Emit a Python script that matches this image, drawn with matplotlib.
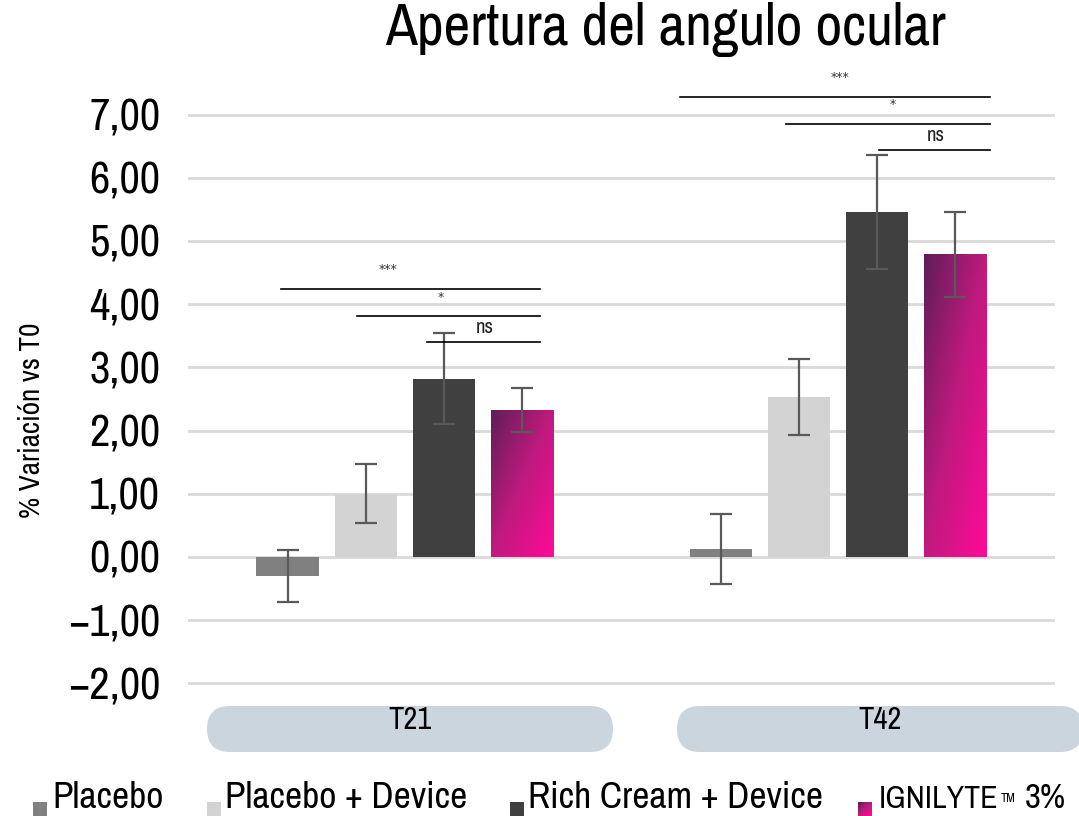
import numpy as np
import matplotlib
matplotlib.use("Agg")
import matplotlib.pyplot as plt
from matplotlib.patches import Rectangle, FancyBboxPatch
from matplotlib.colors import LinearSegmentedColormap
from matplotlib.ticker import FuncFormatter
from matplotlib.transforms import offset_copy

# ---- data ----
timepoints = ["T21", "T42"]
series = ["Placebo", "Placebo + Device", "Rich Cream + Device", "IGNILYTE"]
placebo = [-0.30, 0.13]
placebo_device = [1.00, 2.53]
rich_cream = [2.82, 5.46]
ignilyte = [2.33, 4.79]
err_placebo = [0.41, 0.55]
err_placebo_device = [0.47, 0.60]
err_rich_cream = [0.72, 0.90]
err_ignilyte = [0.35, 0.67]
# significance brackets (x in category units, groups centred at 0.5 and 1.5)
br_start = [0.215, 0.391, 0.551, 1.134, 1.380, 1.595]
br_end = [0.8125, 0.8125, 0.8125, 1.850, 1.850, 1.850]
br_y = [4.24, 3.81, 3.40, 7.28, 6.85, 6.44]
br_label = ["***", "*", "ns", "***", "*", "ns"]
br_label_x = [0.461, 0.583, 0.685, 1.505, 1.625, 1.725]

values = [placebo, placebo_device, rich_cream, ignilyte]
errors = [err_placebo, err_placebo_device, err_rich_cream, err_ignilyte]
colors = ["#808080", "#d3d3d3", "#404040", None]
grad = LinearSegmentedColormap.from_list("ign", ["#5e1e58", "#c01a7e", "#ff0a99"])

FONT = ["Archivo Narrow", "Liberation Sans", "DejaVu Sans"]
plt.rcParams["font.family"] = FONT

W, H = 1079, 816
fig = plt.figure(figsize=(W / 100, H / 100), dpi=100)
ax = fig.add_axes([188 / W, 1 - 689.7 / H, (1055 - 188) / W, (689.7 - 64) / H])

step = 0.18
width = 0.144
centers = np.arange(len(timepoints)) + 0.5
offsets = (np.arange(len(series)) - 1.5) * step

for i, (vals, errs, col) in enumerate(zip(values, errors, colors)):
    xs = centers + offsets[i]
    if col is None:
        bars = ax.bar(xs, vals, width, color="none", zorder=2)
        gimg = np.add.outer(np.linspace(0, 1, 100), np.linspace(0, 1, 100)) / 2
        for b in bars:
            x0, y0 = b.get_x(), b.get_y()
            im = ax.imshow(gimg, cmap=grad, origin="upper", aspect="auto",
                           extent=[x0, x0 + b.get_width(), y0, y0 + b.get_height()],
                           zorder=2)
            im.set_clip_path(b)
    else:
        ax.bar(xs, vals, width, color=col, zorder=2)
    ax.errorbar(xs, vals, yerr=errs, fmt="none", ecolor="#595959",
                elinewidth=1.6, capsize=8, capthick=1.6, zorder=3)

ax.set_xlim(0, 2)
ax.set_ylim(-2.1, 7.8)

# significance brackets
for x0, x1, y, lab, lx in zip(br_start, br_end, br_y, br_label, br_label_x):
    ax.plot([x0, x1], [y, y], color="black", lw=1.2, zorder=4)
    if lab == "ns":
        ax.text(lx, y + 0.08, lab, ha="center", va="bottom", fontsize=15, color="#222222")
    else:
        ax.text(lx, y + 0.2, lab, ha="center", va="bottom", fontsize=9,
                color="#333333", family=["DejaVu Sans"])

ax.set_yticks(np.arange(-2, 8, 1))
ax.yaxis.set_major_formatter(FuncFormatter(lambda v, p: f"{v:.2f}".replace(".", ",").replace("-", "\u2212")))
ax.tick_params(axis="y", length=0, pad=20, labelsize=32)
ax.tick_params(axis="x", length=0, labelbottom=False)
ax.grid(axis="y", color="#d9d9d9", lw=2, zorder=0)
ax.set_axisbelow(True)
for s in ax.spines.values():
    s.set_visible(False)

ax.set_ylabel("% Variación vs T0", fontsize=21)
ax.yaxis.set_label_coords(-143 / (1055 - 188), 0.43)

fig.text(665 / W, 1 - 45 / H, "Apertura del angulo ocular", ha="center", va="baseline",
         fontsize=42)

# category pills under the axis
pill_left = [207, 677]
pill_w, pill_top, pill_bot = 406, 706, 752
for name, left in zip(timepoints, pill_left):
    p = FancyBboxPatch((left / 100, (H - pill_bot) / 100), pill_w / 100, (pill_bot - pill_top) / 100,
                       boxstyle="round,pad=0,rounding_size=0.23",
                       transform=fig.dpi_scale_trans, facecolor="#cbd5de", edgecolor="none")
    fig.add_artist(p)
    fig.text((left + pill_w / 2) / W, 1 - 720 / H, name, ha="center", va="center", fontsize=22)

# legend along the bottom
sq_x = [33, 207, 510, 858]
txt_x = [52, 225, 528, 879]
renderer = fig.canvas.get_renderer()
for i, name in enumerate(series):
    rect = Rectangle((sq_x[i] / W, 0), 14 / W, 14 / H, transform=fig.transFigure)
    if colors[i] is None:
        rect.set_facecolor("none")
        fig.add_artist(rect)
        fig.figimage(np.add.outer(np.linspace(0, 1, 14), np.linspace(0, 1, 14)) / 2,
                     xo=sq_x[i], yo=0, cmap=grad, origin="upper")
        # narrower brand name, small trademark sign, then the concentration
        t = fig.text(txt_x[i] / W, 1 - 808 / H, name, ha="left", va="baseline", fontsize=23)
        wpx = t.get_window_extent(renderer).width
        tr = offset_copy(fig.transFigure, fig=fig, x=(wpx + 2) * 72 / fig.dpi, y=4, units="points")
        tm = fig.text(txt_x[i] / W, 1 - 808 / H, "TM", transform=tr, ha="left", va="baseline",
                      fontsize=9)
        wtm = tm.get_window_extent(renderer).width
        tr2 = offset_copy(fig.transFigure, fig=fig, x=(wpx + wtm + 11) * 72 / fig.dpi, y=0, units="points")
        fig.text(txt_x[i] / W, 1 - 808 / H, "3%", transform=tr2, ha="left", va="baseline",
                 fontsize=25)
    else:
        rect.set_facecolor(colors[i])
        fig.add_artist(rect)
        fig.text(txt_x[i] / W, 1 - 808 / H, name, ha="left", va="baseline", fontsize=27)

fig.savefig("out.png", dpi=100)
